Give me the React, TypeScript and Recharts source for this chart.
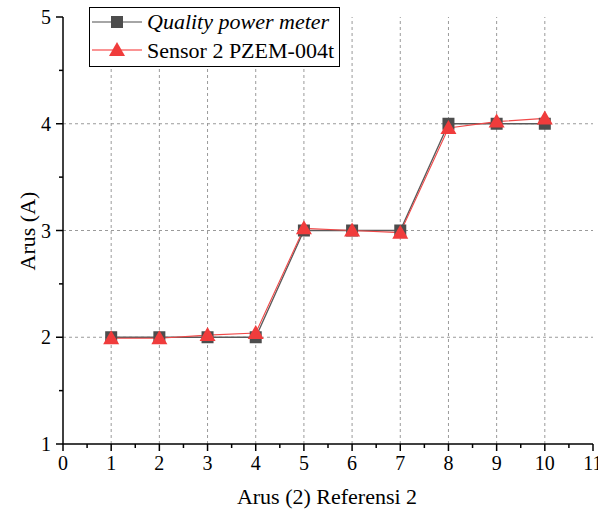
import React from 'react';
import { LineChart, Line, XAxis, YAxis, ReferenceLine } from 'recharts';

const xValues = [1, 2, 3, 4, 5, 6, 7, 8, 9, 10];
const qualityPowerMeter = [2, 2, 2, 2, 3, 3, 3, 4, 4, 4];
const sensor2Pzem = [1.99, 1.99, 2.02, 2.04, 3.02, 3.0, 2.98, 3.96, 4.02, 4.05];
const xTicks = [0, 0.5, 1, 1.5, 2, 2.5, 3, 3.5, 4, 4.5, 5, 5.5, 6, 6.5, 7, 7.5, 8, 8.5, 9, 9.5, 10, 10.5, 11];
const yTicks = [1, 1.5, 2, 2.5, 3, 3.5, 4, 4.5, 5];
const xGrid = [1, 2, 3, 4, 5, 6, 7, 8, 9, 10];
const yGrid = [2, 3, 4];
const seriesNames = ['Quality power meter', 'Sensor 2 PZEM-004t'];
const xTitle = 'Arus (2) Referensi 2';
const yTitle = 'Arus (A)';

const data = xValues.map((x, i) => ({ x, q: qualityPowerMeter[i], s: sensor2Pzem[i] }));

const FONT = "'Liberation Serif', 'Times New Roman', Times, Tinos, 'DejaVu Serif', 'Noto Serif', serif";
const TXT: React.CSSProperties = { fontFamily: FONT };
const GRAY = '#4d4d4d';
const RED = '#f03c3c';

const XTick = (props: any) => {
  const { x, y, payload } = props;
  const v = payload.value;
  const major = Number.isInteger(v);
  return (
    <g>
      <line x1={x} x2={x} y1={y} y2={y + (major ? 7 : 4)} stroke="#000" strokeWidth={1.5} />
      {major && (
        <text x={x} y={y + 26} textAnchor="middle" style={TXT} fontSize={20} fill="#000">
          {v}
        </text>
      )}
    </g>
  );
};

const YTick = (props: any) => {
  const { x, y, payload } = props;
  const v = payload.value;
  const major = Number.isInteger(v);
  return (
    <g>
      <line x1={x} x2={x - (major ? 7 : 4)} y1={y} y2={y} stroke="#000" strokeWidth={1.5} />
      {major && (
        <text x={x - 12} y={y + 7} textAnchor="end" style={TXT} fontSize={20} fill="#000">
          {v}
        </text>
      )}
    </g>
  );
};

const SquareDot = (props: any) => {
  const { cx, cy, index } = props;
  return <rect key={`sq-${index}`} x={cx - 6} y={cy - 6} width={12} height={12} fill={GRAY} />;
};

const TriDot = (props: any) => {
  const { cx, cy, index } = props;
  return (
    <polygon
      key={`tr-${index}`}
      points={`${cx},${cy - 8} ${cx - 8},${cy + 6} ${cx + 8},${cy + 6}`}
      fill={RED}
    />
  );
};

export default function App() {
  return (
    <div style={{ position: 'absolute', left: 0, top: 0, width: 598, height: 512, background: '#fff', fontFamily: FONT }}>
      <LineChart width={598} height={512} data={data} margin={{ top: 17, right: 5, left: 0, bottom: 0 }}>
        <XAxis
          dataKey="x"
          type="number"
          domain={[0, 11]}
          ticks={xTicks}
          interval={0}
          tickSize={0}
          tickMargin={0}
          tick={<XTick />}
          axisLine={{ stroke: '#000', strokeWidth: 1.5 }}
          tickLine={false}
          height={68}
          allowDecimals
        />
        <YAxis
          type="number"
          domain={[1, 5]}
          ticks={yTicks}
          interval={0}
          tickSize={0}
          tickMargin={0}
          tick={<YTick />}
          axisLine={{ stroke: '#000', strokeWidth: 1.5 }}
          tickLine={false}
          width={63}
        />
        {xGrid.map((g) => (
          <ReferenceLine key={`vx-${g}`} x={g} stroke="#9a9a9a" strokeDasharray="3 3" strokeWidth={1} />
        ))}
        {yGrid.map((g) => (
          <ReferenceLine key={`hy-${g}`} y={g} stroke="#9a9a9a" strokeDasharray="3 3" strokeWidth={1} />
        ))}
        <Line
          dataKey="q"
          stroke="#5a5a5a"
          strokeWidth={1.3}
          dot={<SquareDot />}
          isAnimationActive={false}
        />
        <Line
          dataKey="s"
          stroke="#f04848"
          strokeWidth={1.1}
          dot={<TriDot />}
          isAnimationActive={false}
        />
      </LineChart>
      <svg width={598} height={512} style={{ position: 'absolute', left: 0, top: 0, pointerEvents: 'none' }}>
        <text x={327} y={504} textAnchor="middle" style={TXT} fontSize={22} fill="#000">
          {xTitle}
        </text>
        <text
          x={0}
          y={0}
          transform="translate(35 231) rotate(-90)"
          textAnchor="middle"
          style={TXT}
          fontSize={22}
          fill="#000"
        >
          {yTitle}
        </text>
        <rect x={89.5} y={7.5} width={250} height={59} fill="#fff" stroke="#000" strokeWidth={1} />
        <line x1={92} x2={142} y1={22} y2={22} stroke="#888" strokeWidth={1.3} />
        <rect x={111} y={16} width={12} height={12} fill={GRAY} />
        <text x={147} y={29} style={TXT} fontStyle="italic" fontSize={22} fill="#000">
          {seriesNames[0]}
        </text>
        <line x1={92} x2={142} y1={50} y2={50} stroke="#f87070" strokeWidth={1.3} />
        <polygon points="117,42 109,56 125,56" fill={RED} />
        <text x={147} y={58} style={TXT} fontSize={22} fill="#000">
          {seriesNames[1]}
        </text>
      </svg>
    </div>
  );
}
